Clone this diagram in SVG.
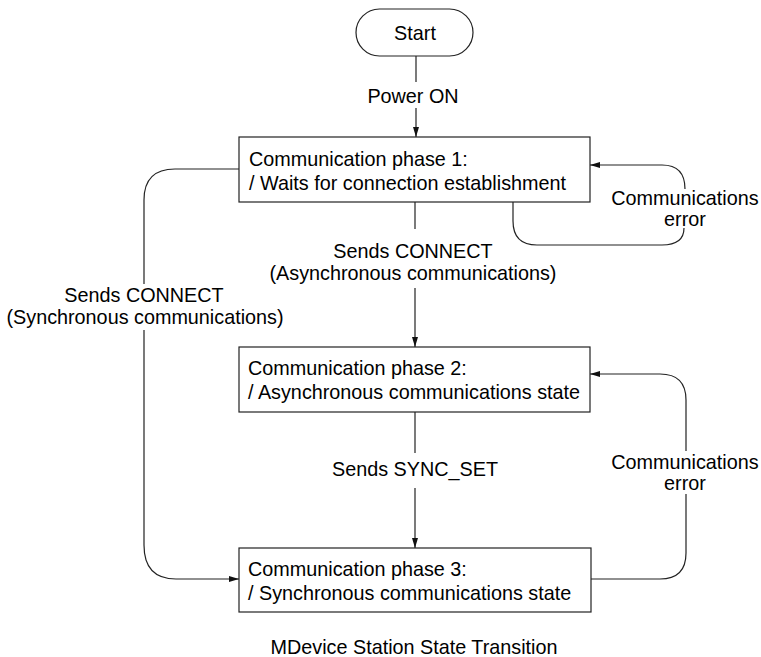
<svg xmlns="http://www.w3.org/2000/svg" width="761" height="657" viewBox="0 0 761 657">
<defs>
<marker id="arr" viewBox="0 0 10 6" refX="10" refY="3" markerWidth="10" markerHeight="6" markerUnits="userSpaceOnUse" orient="auto">
<path d="M0,0 L10,3 L0,6 Z" fill="#111"/>
</marker>
</defs>
<style>
text{font-family:"Liberation Sans",Arial,sans-serif;font-size:19.8px;fill:#000}
.c{text-anchor:middle}
.box{fill:#fff;stroke:#222;stroke-width:1.2}
.ln{fill:none;stroke:#222;stroke-width:1.2}
</style>
<rect width="761" height="657" fill="#fff"/>
<g id="connectors">
<path class="ln" d="M416,56 V82"/>
<path class="ln" d="M416,108 V137" marker-end="url(#arr)"/>
<path class="ln" d="M415,202 V229"/>
<path class="ln" d="M415,288 V347" marker-end="url(#arr)"/>
<path class="ln" d="M415,412 V453"/>
<path class="ln" d="M415,488 V548" marker-end="url(#arr)"/>
<path class="ln" d="M239,169 H175 Q144,169 144,200 V284"/>
<path class="ln" d="M144,330 V545 Q144,579 176,579 H239" marker-end="url(#arr)"/>
<path class="ln" d="M513,202 V221 Q513,245 537,245 H662 Q684,245 684,228"/>
<path class="ln" d="M685,189 Q685,165 662,165 H590" marker-end="url(#arr)"/>
<path class="ln" d="M591,579 H660 Q686,579 686,553 V494"/>
<path class="ln" d="M686,451 V400 Q686,374 660,374 H590" marker-end="url(#arr)"/>
</g>
<g id="start">
<rect class="box" x="356" y="9" width="117" height="47" rx="23.5"/>
<text class="c" x="415" y="40">Start</text>
</g>
<g id="phase1">
<rect class="box" x="239" y="137" width="351" height="65"/>
<text x="249" y="166">Communication phase 1:</text>
<text x="249" y="190">/ Waits for connection establishment</text>
</g>
<g id="phase2">
<rect class="box" x="239" y="347" width="351" height="65"/>
<text x="248" y="375">Communication phase 2:</text>
<text x="248" y="399">/ Asynchronous communications state</text>
</g>
<g id="phase3">
<rect class="box" x="239" y="548" width="352" height="64"/>
<text x="248" y="576">Communication phase 3:</text>
<text x="248" y="600">/ Synchronous communications state</text>
</g>
<g id="labels">
<text class="c" x="413" y="103">Power ON</text>
<text class="c" x="413" y="258">Sends CONNECT</text>
<text class="c" x="413" y="280">(Asynchronous communications)</text>
<text class="c" x="144" y="302">Sends CONNECT</text>
<text class="c" x="145" y="324">(Synchronous communications)</text>
<text class="c" x="415" y="476">Sends SYNC_SET</text>
<text class="c" x="685" y="205">Communications</text>
<text class="c" x="685" y="226">error</text>
<text class="c" x="685" y="469">Communications</text>
<text class="c" x="685" y="490">error</text>
<text class="c" x="414" y="654">MDevice Station State Transition</text>
</g>
</svg>
